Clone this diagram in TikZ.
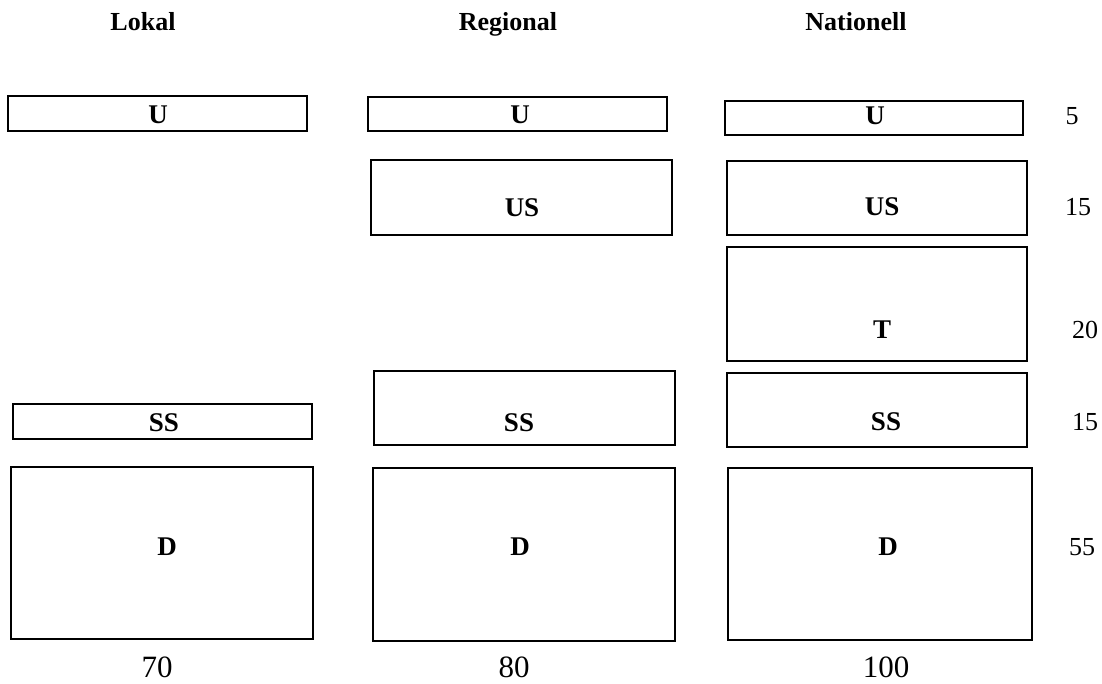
\documentclass[tikz,border=0pt]{standalone}
\usepackage{fontspec}
\setmainfont{Liberation Serif}
\newcommand\bx[5]{\node[box, minimum width={(#4-#2)*1pt}, minimum height={(#5-#3)*1pt}] (#1) at ({(#2+#4)/2},{(#3+#5)/2}) {};}
\begin{document}
\begin{tikzpicture}[x=1pt,y=-1pt,
  box/.style={draw, line width=1.6pt, inner sep=0pt, outer sep=0pt},
  head/.style={inner sep=0pt, text height=17.2pt, text depth=0pt, font=\fontsize{26}{30}\selectfont\bfseries},
  lab/.style={inner sep=0pt, text height=17.9pt, text depth=0pt, font=\fontsize{27}{31}\selectfont\bfseries},
  num/.style={inner sep=0pt, text height=17.6pt, text depth=0pt, font=\fontsize{26}{30}\selectfont},
  bnum/.style={inner sep=0pt, text height=21pt, text depth=0pt, font=\fontsize{31}{35}\selectfont}]
\useasboundingbox (0,0) rectangle (1102,684);
% headers
\node[head] (hl) at (143,22) {Lokal};
\node[head] (hr) at (508,22) {Regional};
\node[head] (hn) at (856,22) {Nationell};
% boxes
\bx{lu}{8}{96}{307}{131}
\bx{lss}{13}{404}{312}{439}
\bx{ld}{11}{467}{313}{639}
\bx{ru}{368}{97}{667}{131}
\bx{rus}{371}{160}{672}{235}
\bx{rss}{374}{371}{675}{445}
\bx{rd}{373}{468}{675}{641}
\bx{nu}{725}{101}{1023}{135}
\bx{nus}{727}{161}{1027}{235}
\bx{nt}{727}{247}{1027}{361}
\bx{nss}{727}{373}{1027}{447}
\bx{nd}{728}{468}{1032}{640}
% labels
\node[lab] (lut) at (158,115) {U};
\node[lab] (lsst) at (164,423) {SS};
\node[lab] (ldt) at (167,547) {D};
\node[lab] (rut) at (520,115) {U};
\node[lab] (rust) at (522,208) {US};
\node[lab] (rsst) at (519,423) {SS};
\node[lab] (rdt) at (520,547) {D};
\node[lab] (nut) at (875,116) {U};
\node[lab] (nust) at (882,207) {US};
\node[lab] (ntt) at (882,330) {T};
\node[lab] (nsst) at (886,422) {SS};
\node[lab] (ndt) at (888,547) {D};
% right numbers
\node[num] (v1) at (1072,116) {5};
\node[num] (v2) at (1078,207) {15};
\node[num] (v3) at (1085,330) {20};
\node[num] (v4) at (1085,422) {15};
\node[num] (v5) at (1082,547) {55};
% bottom numbers
\node[bnum] (b1) at (157,667) {70};
\node[bnum] (b2) at (514,667) {80};
\node[bnum] (b3) at (886,667) {100};
\end{tikzpicture}
\end{document}
